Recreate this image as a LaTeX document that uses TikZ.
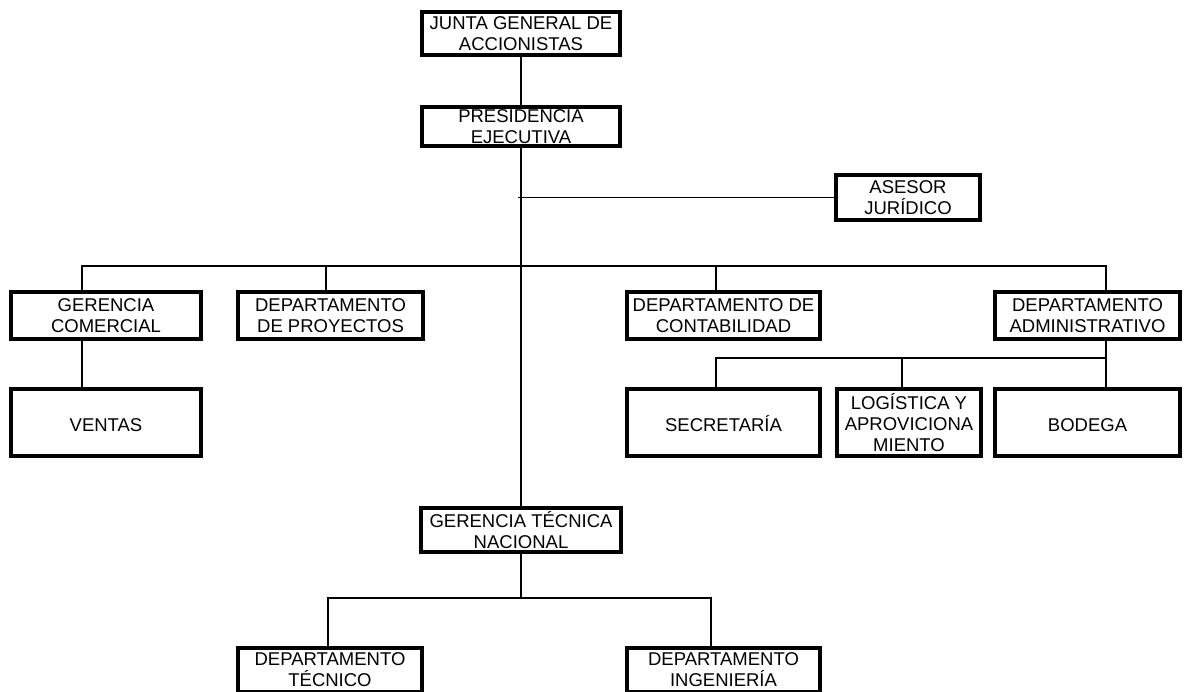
\documentclass[tikz,border=0pt]{standalone}
\usepackage{fontspec}
\setmainfont{Liberation Sans}
\begin{document}
\begin{tikzpicture}[x=1pt,y=-1pt,
  orgbox/.style={draw=black, line width=4pt, inner sep=0pt, fill=white,
    align=center, font=\fontsize{18.5}{21}\selectfont,
    execute at begin node={\rule{0pt}{17.5pt}}},
  link/.style={draw=black, line width=1.1pt}]
\useasboundingbox (0,0) rectangle (1186,691);
\clip (0,0) rectangle (1186,691);
% boxes
\node[orgbox, minimum width=198, minimum height=43] (junta) at (521,33.5) {JUNTA GENERAL DE\\ACCIONISTAS};
\node[orgbox, minimum width=198, minimum height=39] (pres) at (521,126.5) {PRESIDENCIA\\EJECUTIVA};
\node[orgbox, minimum width=144, minimum height=45] (asesor) at (908,197.5) {ASESOR\\JURÍDICO};
\node[orgbox, minimum width=190, minimum height=47] (gcom) at (106,315.5) {GERENCIA\\COMERCIAL};
\node[orgbox, minimum width=185, minimum height=47] (proy) at (330.5,315.5) {DEPARTAMENTO\\DE PROYECTOS};
\node[orgbox, minimum width=193, minimum height=47] (conta) at (723.5,315.5) {DEPARTAMENTO DE\\CONTABILIDAD};
\node[orgbox, minimum width=185, minimum height=47] (admin) at (1087.5,315.5) {DEPARTAMENTO\\ADMINISTRATIVO};
\node[orgbox, minimum width=190, minimum height=67] (ventas) at (106,422.5) {VENTAS};
\node[orgbox, minimum width=193, minimum height=67] (secre) at (723.5,422.5) {SECRETARÍA};
\node[orgbox, minimum width=144, minimum height=67] (logis) at (909,422.5) {LOGÍSTICA Y\\APROVICIONA\\MIENTO};
\node[orgbox, minimum width=185, minimum height=67] (bodega) at (1087.5,422.5) {BODEGA};
\node[orgbox, minimum width=200, minimum height=44] (gtn) at (521,530) {GERENCIA TÉCNICA\\NACIONAL};
\node[orgbox, minimum width=184, minimum height=44] (dtec) at (330,670) {DEPARTAMENTO\\TÉCNICO};
\node[orgbox, minimum width=193, minimum height=44] (ding) at (723.5,670) {DEPARTAMENTO\\INGENIERÍA};
% bus points
\coordinate (b1) at (82,266);
\coordinate (b2) at (326,266);
\coordinate (b3) at (716,266);
\coordinate (b4) at (1106,266);
\coordinate (s1) at (716,358);
\coordinate (s2) at (902,358);
\coordinate (s3) at (1106,358);
\coordinate (g1) at (328,598);
\coordinate (g2) at (711,598);
% connectors
\draw[link] (junta.south) -- (pres.north);
\draw[link] (pres.south) -- (gtn.north);
\draw[link] ([xshift=-3]pres.south |- asesor.west) -- (asesor.west);
\draw[link] (b1 |- gcom.north) -- (b1) -- (b4) -- (b4 |- admin.north);
\draw[link] (b2) -- (b2 |- proy.north);
\draw[link] (b3) -- (b3 |- conta.north);
\draw[link] (b1 |- gcom.south) -- (b1 |- ventas.north);
\draw[link] (s3 |- admin.south) -- (s3 |- bodega.north);
\draw[link] (s1 |- secre.north) -- (s1) -- (s3);
\draw[link] (s2) -- (s2 |- logis.north);
\draw[link] (gtn.south) -- (gtn.south |- g1);
\draw[link] (g1 |- dtec.north) -- (g1) -- (g2) -- (g2 |- ding.north);
\end{tikzpicture}
\end{document}
